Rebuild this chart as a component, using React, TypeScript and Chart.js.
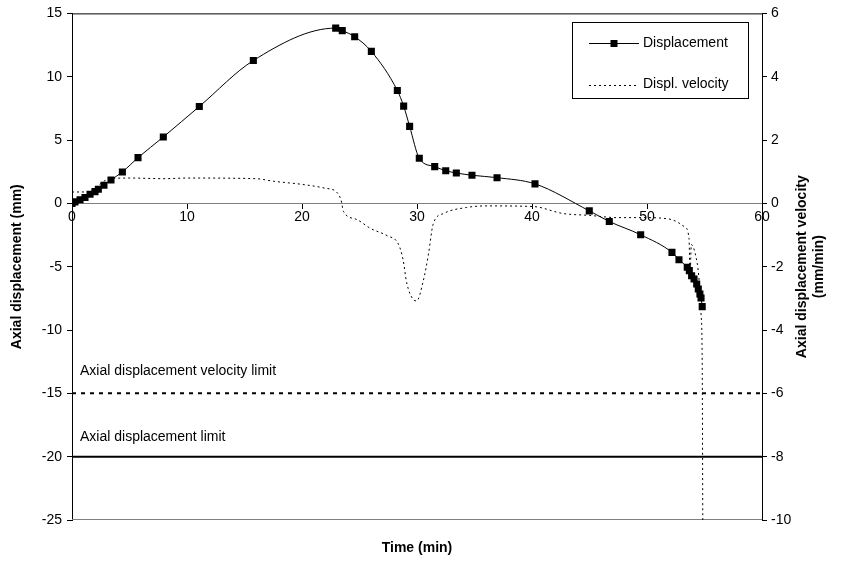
import React, { useEffect, useRef } from "react";
import { Chart, registerables } from "chart.js";

Chart.register(...registerables);

// Axial displacement readings (time in min, displacement in mm)
const dispTime = [
  0, 0.26, 0.7, 1.13, 1.57, 2.0, 2.29, 2.78, 3.39, 4.38, 5.74, 7.94, 11.07, 15.77,
  22.93, 23.5, 24.58, 26.03, 28.29, 28.84, 29.36, 30.2, 31.54, 32.5, 33.42, 34.78,
  36.96, 40.26, 44.98, 46.72, 49.45, 52.17, 52.78, 53.5, 53.68, 53.88, 54.09, 54.32,
  54.46, 54.6, 54.7, 54.8,
];
const dispValues = [
  0, 0.12, 0.28, 0.46, 0.72, 0.93, 1.11, 1.43, 1.85, 2.48, 3.61, 5.24, 7.65, 11.28,
  13.84, 13.64, 13.16, 12.0, 8.91, 7.68, 6.08, 3.56, 2.9, 2.58, 2.4, 2.22,
  2.03, 1.54, -0.59, -1.43, -2.48, -3.87, -4.45, -5.05, -5.31, -5.71, -5.97, -6.36,
  -6.76, -7.15, -7.47, -8.15,
];

// Displacement velocity (time in min, velocity in mm/min)
const velTime = [
  0, 1.3, 2.0, 3.3, 5, 8, 10, 16, 17.5, 20, 22, 23, 23.4, 23.6, 24.7, 26, 27.4,
  28.4, 28.8, 29.1, 29.6, 29.97, 30.55, 31.0, 31.4, 32.3, 34.3, 36, 40.1, 42.7,
  45, 47.4, 49.7, 52, 53.3, 53.65, 53.75, 53.85, 54.2, 54.5, 54.7, 54.8, 54.85,
];
const velValues = [
  0.36, 0.36, 0.5, 0.78, 0.8, 0.78, 0.8, 0.78, 0.7, 0.6, 0.48, 0.36, 0.1, -0.25,
  -0.5, -0.8, -1.02, -1.3, -1.8, -2.5, -3.0, -3.08, -2.44, -1.6, -0.66, -0.32,
  -0.13, -0.08, -0.1, -0.32, -0.38, -0.45, -0.45, -0.5, -0.75, -1.1, -2.3, -1.3,
  -1.6, -2.3, -3.5, -5, -10,
];

// Limits
const velocityLimit = -6; // mm/min
const displacementLimit = -20; // mm

// Axis ranges
const timeRange = [0, 60];
const dispRange = [-25, 15];
const velRange = [-10, 6];

const FONT = "'Liberation Sans', Arial, Helvetica, sans-serif";

const seriesLabels = ["Displacement", "Displ. velocity"];
const limitLabels = ["Axial displacement velocity limit", "Axial displacement limit"];

const DOTS = [2, 3];

const decorations = {
  id: "decorations",
  beforeDatasetsDraw(chart: any) {
    const { ctx, chartArea: a } = chart;
    ctx.save();
    ctx.lineWidth = 1;
    ctx.strokeStyle = "#000";
    ctx.beginPath();
    ctx.moveTo(a.left, a.top + 0.5);
    ctx.lineTo(a.right, a.top + 0.5);
    ctx.stroke();
    ctx.strokeStyle = "#808080";
    ctx.beginPath();
    ctx.moveTo(a.left, a.bottom - 0.5);
    ctx.lineTo(a.right, a.bottom - 0.5);
    ctx.stroke();
    ctx.restore();
  },
  afterDraw(chart: any) {
    const { ctx, chartArea: a, scales } = chart;
    ctx.save();
    ctx.fillStyle = "#000";

    // Limit line captions
    ctx.font = `14px ${FONT}`;
    ctx.textAlign = "left";
    ctx.textBaseline = "middle";
    ctx.fillText(limitLabels[0], a.left + 8, scales.y2.getPixelForValue(velocityLimit) - 22);
    ctx.fillText(limitLabels[1], a.left + 8, scales.y.getPixelForValue(displacementLimit) - 20);

    // Axis titles
    ctx.font = `bold 14px ${FONT}`;
    ctx.textAlign = "center";
    ctx.fillText("Time (min)", (a.left + a.right) / 2, 548);

    const cy = (a.top + a.bottom) / 2;
    ctx.save();
    ctx.translate(17, cy);
    ctx.rotate(-Math.PI / 2);
    ctx.fillText("Axial displacement (mm)", 0, 0);
    ctx.restore();

    ctx.save();
    ctx.translate(802, cy);
    ctx.rotate(-Math.PI / 2);
    ctx.fillText("Axial displacement velocity", 0, 0);
    ctx.fillText("(mm/min)", 0, 17);
    ctx.restore();

    // Legend
    const bx = 572.5, by = 22.5, bw = 176, bh = 76;
    ctx.fillStyle = "#fff";
    ctx.fillRect(bx, by, bw, bh);
    ctx.strokeStyle = "#000";
    ctx.lineWidth = 1;
    ctx.strokeRect(bx, by, bw, bh);

    const sx0 = 589, sx1 = 639, y1 = 43, y2 = 85;
    ctx.beginPath();
    ctx.moveTo(sx0, y1 + 0.5);
    ctx.lineTo(sx1, y1 + 0.5);
    ctx.stroke();
    ctx.fillStyle = "#000";
    ctx.fillRect((sx0 + sx1) / 2 - 3.5, y1 - 3, 7, 7);

    ctx.setLineDash(DOTS);
    ctx.beginPath();
    ctx.moveTo(sx0, y2 + 0.5);
    ctx.lineTo(sx1, y2 + 0.5);
    ctx.stroke();
    ctx.setLineDash([]);

    ctx.font = `14px ${FONT}`;
    ctx.textAlign = "left";
    ctx.fillText(seriesLabels[0], 643, y1);
    ctx.fillText(seriesLabels[1], 643, y2 - 1);
    ctx.restore();
  },
};

export default function App() {
  const canvasRef = useRef<HTMLCanvasElement | null>(null);

  useEffect(() => {
    const canvas = canvasRef.current;
    if (!canvas) return;

    const dispPoints = dispTime.map((t, i) => ({ x: t, y: dispValues[i] }));
    const velPoints = velTime.map((t, i) => ({ x: t, y: velValues[i] }));

    const chart = new Chart(canvas, {
      type: "line",
      data: {
        datasets: [
          {
            label: seriesLabels[0],
            data: dispPoints,
            yAxisID: "y",
            borderColor: "#000",
            borderWidth: 1,
            pointStyle: "rect",
            pointRadius: 5,
            pointBackgroundColor: "#000",
            pointBorderWidth: 0,
            cubicInterpolationMode: "monotone",
            fill: false,
          },
          {
            label: seriesLabels[1],
            data: velPoints,
            yAxisID: "y2",
            borderColor: "#000",
            borderWidth: 1,
            borderDash: DOTS,
            pointRadius: 0,
            cubicInterpolationMode: "monotone",
            fill: false,
          },
          {
            label: limitLabels[0],
            data: [
              { x: timeRange[0], y: velocityLimit },
              { x: timeRange[1], y: velocityLimit },
            ],
            yAxisID: "y2",
            borderColor: "#000",
            borderWidth: 2,
            borderDash: [4, 5],
            pointRadius: 0,
            fill: false,
          },
          {
            label: limitLabels[1],
            data: [
              { x: timeRange[0], y: displacementLimit },
              { x: timeRange[1], y: displacementLimit },
            ],
            yAxisID: "y",
            borderColor: "#000",
            borderWidth: 2,
            pointRadius: 0,
            fill: false,
          },
        ],
      },
      options: {
        animation: false,
        responsive: false,
        layout: { padding: { top: 12, bottom: 42, left: 0, right: 0 } },
        plugins: { legend: { display: false }, tooltip: { enabled: false } },
        scales: {
          x: {
            type: "linear",
            min: timeRange[0],
            max: timeRange[1],
            position: { y: 0 },
            ticks: { stepSize: 10, color: "#000", font: { size: 14, family: FONT }, padding: 0, maxRotation: 0 },
            grid: { display: true, drawOnChartArea: false, drawTicks: true, tickLength: 5, color: "#000" },
            border: { display: true, color: "#808080", width: 1 },
          },
          y: {
            type: "linear",
            position: "left",
            min: dispRange[0],
            max: dispRange[1],
            ticks: { stepSize: 5, color: "#000", font: { size: 14, family: FONT }, padding: 5 },
            grid: { display: true, drawOnChartArea: false, drawTicks: true, tickLength: 5, color: "#000" },
            border: { display: true, color: "#000", width: 1 },
            afterFit: (s: any) => {
              s.width = 72;
            },
          },
          y2: {
            type: "linear",
            position: "right",
            min: velRange[0],
            max: velRange[1],
            ticks: { stepSize: 2, color: "#000", font: { size: 14, family: FONT }, padding: 4 },
            grid: { display: true, drawOnChartArea: false, drawTicks: true, tickLength: 5, color: "#000" },
            border: { display: true, color: "#000", width: 1 },
            afterFit: (s: any) => {
              s.width = 79;
            },
          },
        },
      },
      plugins: [decorations],
    });

    return () => chart.destroy();
  }, []);

  return (
    <div style={{ position: "absolute", left: 0, top: 0, width: 841, height: 562, background: "#fff" }}>
      <canvas ref={canvasRef} width={841} height={562} />
    </div>
  );
}
